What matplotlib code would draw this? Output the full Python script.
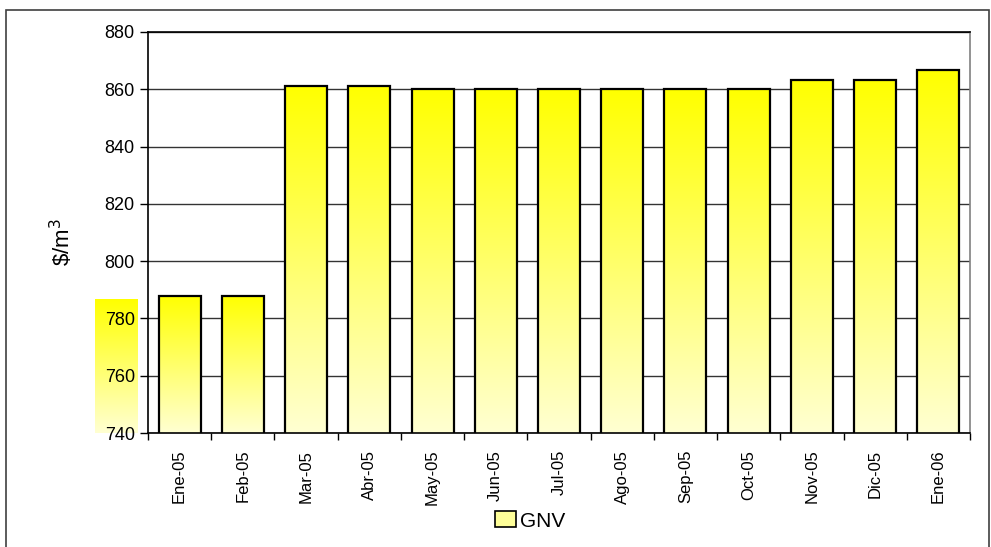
import numpy as np
import matplotlib.pyplot as plt
from matplotlib.colors import LinearSegmentedColormap
from matplotlib.patches import Rectangle, Patch

# Datos
meses = ["Ene-05", "Feb-05", "Mar-05", "Abr-05", "May-05", "Jun-05", "Jul-05",
         "Ago-05", "Sep-05", "Oct-05", "Nov-05", "Dic-05", "Ene-06"]
gnv = [788, 788, 861.2, 861.2, 860, 860, 860, 860, 860, 860, 863.4, 863.4, 866.6]
yticks = [740, 760, 780, 800, 820, 840, 860, 880]

plt.rcParams["font.family"] = ["Liberation Sans", "DejaVu Sans"]

W, H = 991, 547
fig = plt.figure(figsize=(W / 100, H / 100), dpi=100)

# gradiente amarillo (abajo claro, arriba intenso)
cmap = LinearSegmentedColormap.from_list("amarillo", ["#FFFFD2", "#FFFF00"])
grad = np.linspace(0, 1, 256).reshape(-1, 1)

# marco exterior
fig.patches.append(Rectangle((6 / W, -0.01), 983 / W, 1 - 10 / H + 0.01,
                             transform=fig.transFigure, fill=False,
                             edgecolor="#404040", linewidth=1.2))

# rectangulo amarillo junto al eje (como en el original)
art = fig.add_axes([95 / W, 1 - 433 / H, 43 / W, 134 / H], zorder=0)
art.imshow(grad, cmap=cmap, aspect="auto", origin="lower", extent=[0, 1, 0, 1])
art.axis("off")

ax = fig.add_axes([148 / W, 1 - 433 / H, 822 / W, 401 / H], zorder=1)
x = np.arange(len(meses))
bars = ax.bar(x, gnv, width=0.665, bottom=0, color="none",
              edgecolor="black", linewidth=1.6, zorder=3)
for b in bars:
    x0 = b.get_x()
    im = ax.imshow(grad, cmap=cmap, aspect="auto", origin="lower",
                   extent=[x0, x0 + b.get_width(), 740, b.get_height()], zorder=2)
    im.set_clip_path(b)

ax.set_xlim(-0.5, len(meses) - 0.5)
ax.set_ylim(740, 880)
ax.set_yticks(yticks)
ax.tick_params(axis="y", labelsize=13, length=6, width=1, direction="out")
ax.set_xticks(x)
ax.set_xticklabels(meses, rotation=90, fontsize=12)
ax.tick_params(axis="x", length=0, pad=12)
ax.set_xticks(np.arange(-0.5, len(meses)), minor=True)
ax.tick_params(axis="x", which="minor", length=5, width=1, direction="out")
ax.grid(axis="y", color="#333333", linewidth=1, zorder=1)
ax.set_axisbelow(True)
for s in ["left", "top", "bottom"]:
    ax.spines[s].set_color("black")
    ax.spines[s].set_linewidth(1.2)
ax.spines["right"].set_color("#808080")
ax.spines["right"].set_linewidth(1.2)

fig.text(62 / W, 1 - 242 / H, "\\$/m$^3$", rotation=90, fontsize=16,
         ha="center", va="center")

fig.legend(handles=[Patch(facecolor="#FFFF99", edgecolor="black", linewidth=1.2,
                          label="GNV")],
           loc="center", bbox_to_anchor=(530 / W, 1 - 521 / H), frameon=False,
           fontsize=15, handlelength=1.0, handleheight=0.8, handletextpad=0.2)

fig.savefig("out.png", dpi=100)
